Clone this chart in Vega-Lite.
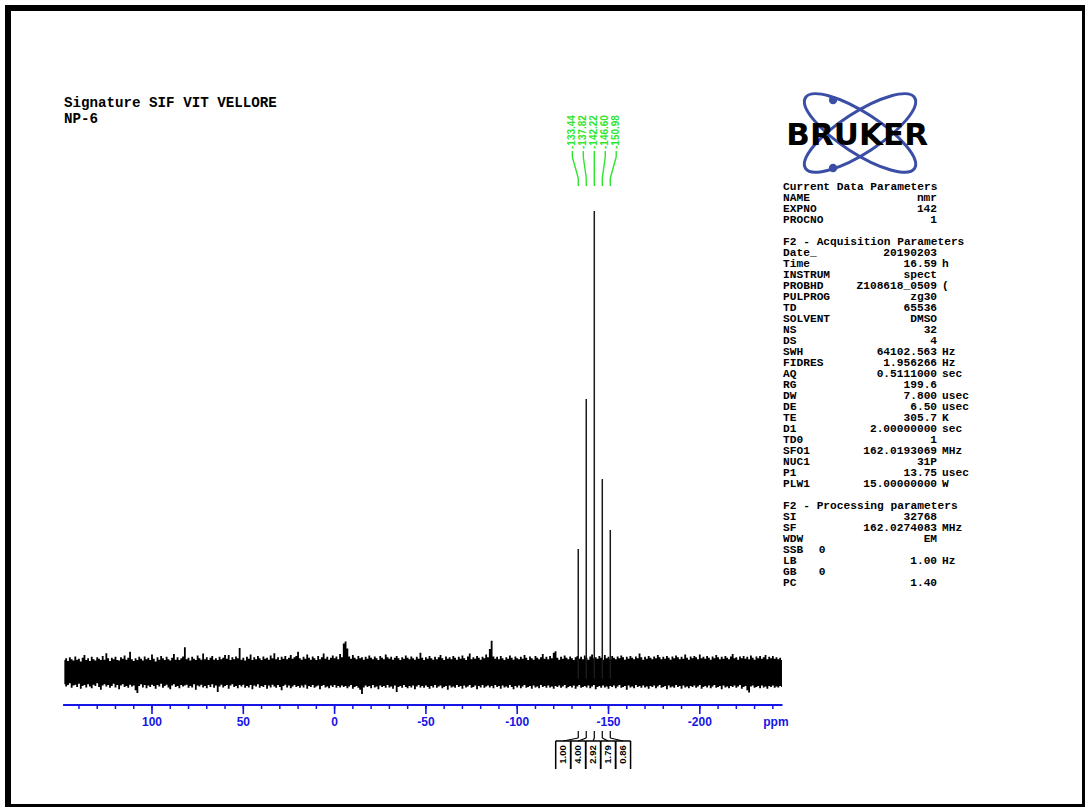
{
  "$schema": "https://vega.github.io/schema/vega-lite/v6.json",
  "width": 1077,
  "height": 799,
  "autosize": "none",
  "padding": {"left": 8, "top": 8, "right": 0, "bottom": 0},
  "background": "white",
  "config": {"view": {"stroke": "black", "strokeWidth": 6}},
  "datasets": {
    "noise": [
      {"ppm":148,"hi":3.0,"lo":-2.2},{"ppm":147,"hi":3.4,"lo":-2.7},{"ppm":146,"hi":2.8,"lo":-2.4},{"ppm":145,"hi":3.6,"lo":-2.0},{"ppm":144,"hi":3.2,"lo":-3.0},
      {"ppm":143,"hi":2.9,"lo":-2.5},{"ppm":142,"hi":3.8,"lo":-2.3},{"ppm":141,"hi":3.1,"lo":-2.8},{"ppm":140,"hi":3.3,"lo":-2.1},{"ppm":139,"hi":2.7,"lo":-3.2},
      {"ppm":138,"hi":3.5,"lo":-2.6},{"ppm":137,"hi":4.1,"lo":-2.4},{"ppm":136,"hi":3.0,"lo":-2.9},{"ppm":135,"hi":3.4,"lo":-2.2},{"ppm":134,"hi":2.8,"lo":-2.7},
      {"ppm":133,"hi":3.7,"lo":-3.1},{"ppm":132,"hi":3.2,"lo":-2.3},{"ppm":131,"hi":2.9,"lo":-2.6},{"ppm":130,"hi":3.6,"lo":-2.0},{"ppm":129,"hi":3.3,"lo":-2.8},
      {"ppm":128,"hi":3.0,"lo":-3.4},{"ppm":127,"hi":3.9,"lo":-2.5},{"ppm":126,"hi":3.1,"lo":-2.2},{"ppm":125,"hi":4.5,"lo":-2.7},{"ppm":124,"hi":3.4,"lo":-2.4},
      {"ppm":123,"hi":2.8,"lo":-3.0},{"ppm":122,"hi":3.5,"lo":-2.6},{"ppm":121,"hi":3.2,"lo":-2.1},{"ppm":120,"hi":3.7,"lo":-2.9},{"ppm":119,"hi":3.0,"lo":-2.4},
      {"ppm":118,"hi":2.9,"lo":-3.3},{"ppm":117,"hi":3.6,"lo":-2.5},{"ppm":116,"hi":3.3,"lo":-2.2},{"ppm":115,"hi":4.0,"lo":-2.8},{"ppm":114,"hi":3.1,"lo":-2.6},
      {"ppm":113,"hi":3.5,"lo":-3.0},{"ppm":112,"hi":4.8,"lo":-2.3},{"ppm":111,"hi":3.2,"lo":-2.7},{"ppm":110,"hi":2.8,"lo":-2.5},{"ppm":109,"hi":3.4,"lo":-3.5},
      {"ppm":108,"hi":3.0,"lo":-4.1},{"ppm":107,"hi":3.7,"lo":-2.6},{"ppm":106,"hi":3.3,"lo":-2.2},{"ppm":105,"hi":2.9,"lo":-2.9},{"ppm":104,"hi":3.8,"lo":-2.4},
      {"ppm":103,"hi":3.2,"lo":-3.1},{"ppm":102,"hi":3.5,"lo":-2.5},{"ppm":101,"hi":3.0,"lo":-2.8},{"ppm":100,"hi":4.2,"lo":-2.3},{"ppm":99,"hi":3.3,"lo":-2.6},
      {"ppm":98,"hi":2.7,"lo":-3.2},{"ppm":97,"hi":3.6,"lo":-2.4},{"ppm":96,"hi":3.1,"lo":-2.7},{"ppm":95,"hi":3.9,"lo":-2.1},{"ppm":94,"hi":3.4,"lo":-3.0},
      {"ppm":93,"hi":3.0,"lo":-2.6},{"ppm":92,"hi":3.7,"lo":-2.3},{"ppm":91,"hi":3.2,"lo":-2.9},{"ppm":90,"hi":2.9,"lo":-3.3},{"ppm":89,"hi":3.5,"lo":-2.5},
      {"ppm":88,"hi":4.3,"lo":-2.2},{"ppm":87,"hi":3.1,"lo":-2.8},{"ppm":86,"hi":3.6,"lo":-2.6},{"ppm":85,"hi":3.0,"lo":-3.1},{"ppm":84,"hi":3.4,"lo":-2.4},
      {"ppm":83,"hi":3.8,"lo":-2.7},{"ppm":82,"hi":5.8,"lo":-2.5},{"ppm":81,"hi":3.2,"lo":-2.3},{"ppm":80,"hi":3.5,"lo":-3.0},{"ppm":79,"hi":2.9,"lo":-2.6},
      {"ppm":78,"hi":3.7,"lo":-2.9},{"ppm":77,"hi":3.3,"lo":-2.2},{"ppm":76,"hi":3.0,"lo":-3.4},{"ppm":75,"hi":4.0,"lo":-2.5},{"ppm":74,"hi":3.4,"lo":-2.7},
      {"ppm":73,"hi":3.1,"lo":-2.3},{"ppm":72,"hi":4.4,"lo":-2.9},{"ppm":71,"hi":3.2,"lo":-2.6},{"ppm":70,"hi":3.6,"lo":-3.1},{"ppm":69,"hi":3.0,"lo":-2.4},
      {"ppm":68,"hi":3.5,"lo":-2.8},{"ppm":67,"hi":3.9,"lo":-2.2},{"ppm":66,"hi":3.1,"lo":-3.0},{"ppm":65,"hi":3.4,"lo":-2.5},{"ppm":64,"hi":3.0,"lo":-3.9},
      {"ppm":63,"hi":3.7,"lo":-2.7},{"ppm":62,"hi":3.2,"lo":-2.3},{"ppm":61,"hi":3.5,"lo":-2.9},{"ppm":60,"hi":4.1,"lo":-2.6},{"ppm":59,"hi":3.3,"lo":-2.4},
      {"ppm":58,"hi":4.1,"lo":-3.2},{"ppm":57,"hi":3.0,"lo":-2.5},{"ppm":56,"hi":3.6,"lo":-2.2},{"ppm":55,"hi":3.2,"lo":-2.8},{"ppm":54,"hi":3.8,"lo":-2.6},
      {"ppm":53,"hi":3.4,"lo":-3.1},{"ppm":52,"hi":5.6,"lo":-2.4},{"ppm":51,"hi":3.1,"lo":-2.7},{"ppm":50,"hi":3.5,"lo":-2.3},{"ppm":49,"hi":2.9,"lo":-3.0},
      {"ppm":48,"hi":3.7,"lo":-2.6},{"ppm":47,"hi":3.3,"lo":-2.9},{"ppm":46,"hi":4.2,"lo":-2.4},{"ppm":45,"hi":3.0,"lo":-3.3},{"ppm":44,"hi":3.6,"lo":-2.5},
      {"ppm":43,"hi":3.2,"lo":-2.7},{"ppm":42,"hi":3.9,"lo":-2.2},{"ppm":41,"hi":3.4,"lo":-3.0},{"ppm":40,"hi":3.0,"lo":-2.6},{"ppm":39,"hi":3.8,"lo":-2.8},
      {"ppm":38,"hi":3.3,"lo":-2.4},{"ppm":37,"hi":3.5,"lo":-3.2},{"ppm":36,"hi":3.1,"lo":-2.5},{"ppm":35,"hi":4.0,"lo":-2.9},{"ppm":34,"hi":3.4,"lo":-2.3},
      {"ppm":33,"hi":4.5,"lo":-2.7},{"ppm":32,"hi":3.2,"lo":-3.0},{"ppm":31,"hi":3.6,"lo":-2.4},{"ppm":30,"hi":3.0,"lo":-2.8},{"ppm":29,"hi":3.7,"lo":-3.5},
      {"ppm":28,"hi":3.3,"lo":-2.6},{"ppm":27,"hi":3.9,"lo":-2.3},{"ppm":26,"hi":3.2,"lo":-2.9},{"ppm":25,"hi":3.5,"lo":-2.5},{"ppm":24,"hi":4.1,"lo":-3.1},
      {"ppm":23,"hi":3.3,"lo":-2.7},{"ppm":22,"hi":3.6,"lo":-2.4},{"ppm":21,"hi":3.9,"lo":-2.8},{"ppm":20,"hi":4.8,"lo":-2.6},{"ppm":19,"hi":3.4,"lo":-3.0},
      {"ppm":18,"hi":3.1,"lo":-2.5},{"ppm":17,"hi":3.7,"lo":-2.9},{"ppm":16,"hi":3.3,"lo":-2.3},{"ppm":15,"hi":4.2,"lo":-3.2},{"ppm":14,"hi":3.5,"lo":-2.6},
      {"ppm":13,"hi":3.1,"lo":-2.8},{"ppm":12,"hi":3.8,"lo":-2.4},{"ppm":11,"hi":3.4,"lo":-3.0},{"ppm":10,"hi":3.0,"lo":-2.7},{"ppm":9,"hi":3.9,"lo":-2.5},
      {"ppm":8,"hi":3.2,"lo":-3.3},{"ppm":7,"hi":3.6,"lo":-2.6},{"ppm":6,"hi":4.4,"lo":-2.4},{"ppm":5,"hi":3.3,"lo":-2.9},{"ppm":4,"hi":3.7,"lo":-2.7},
      {"ppm":3,"hi":3.1,"lo":-3.1},{"ppm":2,"hi":3.5,"lo":-2.5},{"ppm":1,"hi":4.0,"lo":-2.8},{"ppm":0,"hi":3.4,"lo":-2.4},{"ppm":-1,"hi":3.8,"lo":-3.0},
      {"ppm":-2,"hi":3.2,"lo":-2.6},{"ppm":-3,"hi":4.3,"lo":-2.9},{"ppm":-4,"hi":3.6,"lo":-2.5},{"ppm":-5,"hi":6.6,"lo":-2.8},{"ppm":-6,"hi":7.0,"lo":-2.6},
      {"ppm":-7,"hi":5.5,"lo":-3.1},{"ppm":-8,"hi":3.8,"lo":-2.7},{"ppm":-9,"hi":3.3,"lo":-2.4},{"ppm":-10,"hi":4.1,"lo":-3.2},{"ppm":-11,"hi":3.5,"lo":-2.8},
      {"ppm":-12,"hi":3.2,"lo":-2.6},{"ppm":-13,"hi":3.9,"lo":-3.0},{"ppm":-14,"hi":3.4,"lo":-3.4},{"ppm":-15,"hi":3.6,"lo":-4.3},{"ppm":-16,"hi":3.1,"lo":-2.9},
      {"ppm":-17,"hi":3.7,"lo":-2.5},{"ppm":-18,"hi":3.3,"lo":-2.8},{"ppm":-19,"hi":4.0,"lo":-2.6},{"ppm":-20,"hi":3.5,"lo":-3.1},{"ppm":-21,"hi":3.2,"lo":-2.4},
      {"ppm":-22,"hi":3.8,"lo":-2.9},{"ppm":-23,"hi":3.4,"lo":-2.7},{"ppm":-24,"hi":3.0,"lo":-3.3},{"ppm":-25,"hi":3.9,"lo":-2.5},{"ppm":-26,"hi":3.5,"lo":-2.8},
      {"ppm":-27,"hi":3.2,"lo":-2.6},{"ppm":-28,"hi":4.2,"lo":-3.0},{"ppm":-29,"hi":3.6,"lo":-2.4},{"ppm":-30,"hi":3.3,"lo":-2.9},{"ppm":-31,"hi":3.7,"lo":-2.7},
      {"ppm":-32,"hi":3.1,"lo":-3.2},{"ppm":-33,"hi":3.5,"lo":-2.5},{"ppm":-34,"hi":3.9,"lo":-3.9},{"ppm":-35,"hi":3.4,"lo":-2.8},{"ppm":-36,"hi":3.0,"lo":-2.6},
      {"ppm":-37,"hi":3.6,"lo":-3.0},{"ppm":-38,"hi":3.3,"lo":-2.4},{"ppm":-39,"hi":4.0,"lo":-2.8},{"ppm":-40,"hi":3.5,"lo":-3.1},{"ppm":-41,"hi":3.2,"lo":-2.6},
      {"ppm":-42,"hi":3.8,"lo":-2.9},{"ppm":-43,"hi":3.4,"lo":-2.5},{"ppm":-44,"hi":3.1,"lo":-3.3},{"ppm":-45,"hi":3.7,"lo":-2.7},{"ppm":-46,"hi":3.3,"lo":-2.4},
      {"ppm":-47,"hi":4.6,"lo":-2.9},{"ppm":-48,"hi":3.5,"lo":-2.6},{"ppm":-49,"hi":3.0,"lo":-3.0},{"ppm":-50,"hi":3.6,"lo":-2.5},{"ppm":-51,"hi":3.3,"lo":-2.8},
      {"ppm":-52,"hi":3.9,"lo":-3.2},{"ppm":-53,"hi":3.4,"lo":-2.6},{"ppm":-54,"hi":3.1,"lo":-2.9},{"ppm":-55,"hi":3.7,"lo":-2.4},{"ppm":-56,"hi":3.2,"lo":-3.0},
      {"ppm":-57,"hi":3.6,"lo":-2.7},{"ppm":-58,"hi":4.1,"lo":-2.5},{"ppm":-59,"hi":3.4,"lo":-3.1},{"ppm":-60,"hi":3.0,"lo":-2.8},{"ppm":-61,"hi":3.8,"lo":-2.6},
      {"ppm":-62,"hi":3.3,"lo":-3.4},{"ppm":-63,"hi":3.6,"lo":-2.5},{"ppm":-64,"hi":3.2,"lo":-2.9},{"ppm":-65,"hi":3.9,"lo":-2.7},{"ppm":-66,"hi":3.5,"lo":-3.0},
      {"ppm":-67,"hi":3.1,"lo":-2.4},{"ppm":-68,"hi":3.7,"lo":-2.8},{"ppm":-69,"hi":3.3,"lo":-2.6},{"ppm":-70,"hi":4.0,"lo":-3.2},{"ppm":-71,"hi":3.4,"lo":-2.5},
      {"ppm":-72,"hi":3.0,"lo":-2.9},{"ppm":-73,"hi":3.8,"lo":-2.7},{"ppm":-74,"hi":4.4,"lo":-2.4},{"ppm":-75,"hi":3.2,"lo":-3.0},{"ppm":-76,"hi":3.6,"lo":-2.8},
      {"ppm":-77,"hi":3.3,"lo":-2.5},{"ppm":-78,"hi":3.9,"lo":-3.3},{"ppm":-79,"hi":3.5,"lo":-2.6},{"ppm":-80,"hi":3.1,"lo":-2.9},{"ppm":-81,"hi":3.7,"lo":-2.4},
      {"ppm":-82,"hi":3.4,"lo":-3.0},{"ppm":-83,"hi":4.2,"lo":-2.7},{"ppm":-84,"hi":3.6,"lo":-2.5},{"ppm":-85,"hi":5.4,"lo":-2.9},{"ppm":-86,"hi":7.2,"lo":-2.6},
      {"ppm":-87,"hi":3.8,"lo":-3.1},{"ppm":-88,"hi":3.3,"lo":-2.4},{"ppm":-89,"hi":3.7,"lo":-2.8},{"ppm":-90,"hi":3.2,"lo":-2.6},{"ppm":-91,"hi":3.9,"lo":-3.2},
      {"ppm":-92,"hi":3.4,"lo":-2.5},{"ppm":-93,"hi":3.0,"lo":-2.9},{"ppm":-94,"hi":3.6,"lo":-2.7},{"ppm":-95,"hi":3.3,"lo":-3.0},{"ppm":-96,"hi":4.0,"lo":-2.4},
      {"ppm":-97,"hi":3.5,"lo":-2.8},{"ppm":-98,"hi":3.1,"lo":-3.3},{"ppm":-99,"hi":3.8,"lo":-2.6},{"ppm":-100,"hi":3.4,"lo":-2.9},{"ppm":-101,"hi":3.2,"lo":-2.5},
      {"ppm":-102,"hi":3.7,"lo":-3.1},{"ppm":-103,"hi":3.3,"lo":-2.7},{"ppm":-104,"hi":4.1,"lo":-2.4},{"ppm":-105,"hi":3.5,"lo":-3.0},{"ppm":-106,"hi":3.0,"lo":-2.8},
      {"ppm":-107,"hi":3.8,"lo":-2.6},{"ppm":-108,"hi":3.4,"lo":-3.2},{"ppm":-109,"hi":3.1,"lo":-2.5},{"ppm":-110,"hi":3.9,"lo":-2.9},{"ppm":-111,"hi":3.5,"lo":-2.7},
      {"ppm":-112,"hi":3.2,"lo":-3.1},{"ppm":-113,"hi":3.6,"lo":-2.4},{"ppm":-114,"hi":4.3,"lo":-2.8},{"ppm":-115,"hi":3.3,"lo":-2.6},{"ppm":-116,"hi":3.7,"lo":-3.0},
      {"ppm":-117,"hi":3.2,"lo":-2.5},{"ppm":-118,"hi":3.9,"lo":-2.9},{"ppm":-119,"hi":3.4,"lo":-2.7},{"ppm":-120,"hi":4.6,"lo":-3.2},{"ppm":-121,"hi":4.9,"lo":-2.6},
      {"ppm":-122,"hi":3.5,"lo":-2.8},{"ppm":-123,"hi":3.1,"lo":-2.5},{"ppm":-124,"hi":3.7,"lo":-3.0},{"ppm":-125,"hi":3.3,"lo":-2.7},{"ppm":-126,"hi":4.0,"lo":-2.4},
      {"ppm":-127,"hi":3.5,"lo":-3.1},{"ppm":-128,"hi":3.2,"lo":-2.8},{"ppm":-129,"hi":3.8,"lo":-2.6},{"ppm":-130,"hi":3.4,"lo":-2.9},{"ppm":-131,"hi":3.0,"lo":-2.5},
      {"ppm":-132,"hi":3.6,"lo":-3.2},{"ppm":-133,"hi":3.9,"lo":-2.7},{"ppm":-134,"hi":3.3,"lo":-2.4},{"ppm":-135,"hi":3.7,"lo":-3.0},{"ppm":-136,"hi":3.2,"lo":-2.8},
      {"ppm":-137,"hi":4.0,"lo":-2.6},{"ppm":-138,"hi":3.5,"lo":-2.9},{"ppm":-139,"hi":3.1,"lo":-2.5},{"ppm":-140,"hi":3.8,"lo":-3.1},{"ppm":-141,"hi":4.2,"lo":-2.7},
      {"ppm":-142,"hi":3.4,"lo":-2.4},{"ppm":-143,"hi":3.6,"lo":-3.3},{"ppm":-144,"hi":3.3,"lo":-2.8},{"ppm":-145,"hi":3.9,"lo":-2.6},{"ppm":-146,"hi":3.5,"lo":-3.0},
      {"ppm":-147,"hi":3.1,"lo":-2.5},{"ppm":-148,"hi":4.1,"lo":-2.9},{"ppm":-149,"hi":3.4,"lo":-2.7},{"ppm":-150,"hi":3.7,"lo":-3.2},{"ppm":-151,"hi":3.2,"lo":-2.6},
      {"ppm":-152,"hi":3.9,"lo":-2.8},{"ppm":-153,"hi":3.5,"lo":-2.5},{"ppm":-154,"hi":3.2,"lo":-3.1},{"ppm":-155,"hi":3.8,"lo":-2.7},{"ppm":-156,"hi":3.4,"lo":-2.4},
      {"ppm":-157,"hi":4.0,"lo":-3.0},{"ppm":-158,"hi":3.6,"lo":-2.8},{"ppm":-159,"hi":3.1,"lo":-2.6},{"ppm":-160,"hi":3.7,"lo":-3.4},{"ppm":-161,"hi":3.3,"lo":-2.5},
      {"ppm":-162,"hi":3.9,"lo":-2.9},{"ppm":-163,"hi":3.5,"lo":-2.7},{"ppm":-164,"hi":3.2,"lo":-3.1},{"ppm":-165,"hi":3.8,"lo":-2.4},{"ppm":-166,"hi":3.4,"lo":-2.8},
      {"ppm":-167,"hi":4.4,"lo":-2.6},{"ppm":-168,"hi":3.6,"lo":-3.0},{"ppm":-169,"hi":3.1,"lo":-2.5},{"ppm":-170,"hi":3.7,"lo":-2.9},{"ppm":-171,"hi":3.3,"lo":-2.7},
      {"ppm":-172,"hi":3.9,"lo":-3.2},{"ppm":-173,"hi":3.5,"lo":-2.6},{"ppm":-174,"hi":3.2,"lo":-2.8},{"ppm":-175,"hi":3.8,"lo":-2.5},{"ppm":-176,"hi":3.4,"lo":-3.1},
      {"ppm":-177,"hi":4.1,"lo":-2.7},{"ppm":-178,"hi":3.6,"lo":-2.4},{"ppm":-179,"hi":3.2,"lo":-3.0},{"ppm":-180,"hi":3.7,"lo":-2.8},{"ppm":-181,"hi":3.3,"lo":-2.6},
      {"ppm":-182,"hi":3.9,"lo":-3.3},{"ppm":-183,"hi":3.5,"lo":-2.5},{"ppm":-184,"hi":3.1,"lo":-2.9},{"ppm":-185,"hi":3.8,"lo":-2.7},{"ppm":-186,"hi":3.4,"lo":-3.0},
      {"ppm":-187,"hi":4.0,"lo":-2.4},{"ppm":-188,"hi":3.6,"lo":-2.8},{"ppm":-189,"hi":3.2,"lo":-2.6},{"ppm":-190,"hi":3.7,"lo":-3.2},{"ppm":-191,"hi":3.3,"lo":-2.5},
      {"ppm":-192,"hi":4.2,"lo":-2.9},{"ppm":-193,"hi":3.5,"lo":-2.7},{"ppm":-194,"hi":3.1,"lo":-3.1},{"ppm":-195,"hi":3.8,"lo":-2.6},{"ppm":-196,"hi":3.4,"lo":-2.8},
      {"ppm":-197,"hi":3.9,"lo":-2.5},{"ppm":-198,"hi":3.6,"lo":-3.0},{"ppm":-199,"hi":3.2,"lo":-2.7},{"ppm":-200,"hi":4.2,"lo":-2.4},{"ppm":-201,"hi":3.4,"lo":-3.2},
      {"ppm":-202,"hi":3.7,"lo":-2.8},{"ppm":-203,"hi":3.3,"lo":-2.6},{"ppm":-204,"hi":3.9,"lo":-2.9},{"ppm":-205,"hi":3.5,"lo":-2.5},{"ppm":-206,"hi":3.1,"lo":-3.1},
      {"ppm":-207,"hi":3.8,"lo":-2.7},{"ppm":-208,"hi":3.4,"lo":-2.4},{"ppm":-209,"hi":4.1,"lo":-3.0},{"ppm":-210,"hi":3.6,"lo":-2.8},{"ppm":-211,"hi":3.2,"lo":-2.6},
      {"ppm":-212,"hi":3.7,"lo":-3.3},{"ppm":-213,"hi":3.3,"lo":-2.5},{"ppm":-214,"hi":3.9,"lo":-2.9},{"ppm":-215,"hi":3.5,"lo":-2.7},{"ppm":-216,"hi":3.2,"lo":-3.1},
      {"ppm":-217,"hi":3.8,"lo":-2.6},{"ppm":-218,"hi":4.3,"lo":-2.8},{"ppm":-219,"hi":3.4,"lo":-2.5},{"ppm":-220,"hi":3.6,"lo":-3.0},{"ppm":-221,"hi":3.1,"lo":-2.7},
      {"ppm":-222,"hi":3.8,"lo":-2.4},{"ppm":-223,"hi":3.4,"lo":-3.2},{"ppm":-224,"hi":3.9,"lo":-2.8},{"ppm":-225,"hi":3.3,"lo":-2.6},{"ppm":-226,"hi":3.7,"lo":-3.5},
      {"ppm":-227,"hi":3.2,"lo":-4.0},{"ppm":-228,"hi":4.0,"lo":-2.7},{"ppm":-229,"hi":3.5,"lo":-2.5},{"ppm":-230,"hi":3.1,"lo":-3.0},{"ppm":-231,"hi":3.8,"lo":-2.8},
      {"ppm":-232,"hi":3.4,"lo":-2.6},{"ppm":-233,"hi":3.9,"lo":-3.1},{"ppm":-234,"hi":3.3,"lo":-2.5},{"ppm":-235,"hi":3.6,"lo":-2.9},{"ppm":-236,"hi":4.1,"lo":-2.7},
      {"ppm":-237,"hi":3.2,"lo":-3.2},{"ppm":-238,"hi":3.7,"lo":-2.6},{"ppm":-239,"hi":3.4,"lo":-2.8},{"ppm":-240,"hi":3.9,"lo":-2.5},{"ppm":-241,"hi":3.3,"lo":-3.0},
      {"ppm":-242,"hi":3.6,"lo":-2.7},{"ppm":-243,"hi":3.2,"lo":-2.9},{"ppm":-244,"hi":3.5,"lo":-2.6},{"ppm":-245,"hi":3.0,"lo":-2.8}
    ],
    "peaks": [
      {"ppm":-133.44,"h":27.0,"label":"-133.44","integral":"1.00"},
      {"ppm":-137.82,"h":59.4,"label":"-137.82","integral":"4.00"},
      {"ppm":-142.22,"h":100.0,"label":"-142.22","integral":"2.92"},
      {"ppm":-146.60,"h":42.1,"label":"-146.60","integral":"1.79"},
      {"ppm":-150.98,"h":31.1,"label":"-150.98","integral":"0.86"}
    ],
    "minorTicks": [
      {"ppm":140},{"ppm":130},{"ppm":120},{"ppm":110},{"ppm":100},{"ppm":90},{"ppm":80},{"ppm":70},{"ppm":60},{"ppm":50},
      {"ppm":40},{"ppm":30},{"ppm":20},{"ppm":10},{"ppm":0},{"ppm":-10},{"ppm":-20},{"ppm":-30},{"ppm":-40},{"ppm":-50},
      {"ppm":-60},{"ppm":-70},{"ppm":-80},{"ppm":-90},{"ppm":-100},{"ppm":-110},{"ppm":-120},{"ppm":-130},{"ppm":-140},{"ppm":-150},
      {"ppm":-160},{"ppm":-170},{"ppm":-180},{"ppm":-190},{"ppm":-200},{"ppm":-210},{"ppm":-220},{"ppm":-230},{"ppm":-240}
    ],
    "majorTicks": [
      {"ppm":100},{"ppm":50},{"ppm":0},{"ppm":-50},{"ppm":-100},{"ppm":-150},{"ppm":-200}
    ],
    "params": [
      {"line":0,"key":"Current Data Parameters"},
      {"line":1,"key":"NAME","val":"nmr"},
      {"line":2,"key":"EXPNO","val":"142"},
      {"line":3,"key":"PROCNO","val":"1"},
      {"line":5,"key":"F2 - Acquisition Parameters"},
      {"line":6,"key":"Date_","val":"20190203"},
      {"line":7,"key":"Time","val":"16.59","unit":"h"},
      {"line":8,"key":"INSTRUM","val":"spect"},
      {"line":9,"key":"PROBHD","val":"Z108618_0509","unit":"("},
      {"line":10,"key":"PULPROG","val":"zg30"},
      {"line":11,"key":"TD","val":"65536"},
      {"line":12,"key":"SOLVENT","val":"DMSO"},
      {"line":13,"key":"NS","val":"32"},
      {"line":14,"key":"DS","val":"4"},
      {"line":15,"key":"SWH","val":"64102.563","unit":"Hz"},
      {"line":16,"key":"FIDRES","val":"1.956266","unit":"Hz"},
      {"line":17,"key":"AQ","val":"0.5111000","unit":"sec"},
      {"line":18,"key":"RG","val":"199.6"},
      {"line":19,"key":"DW","val":"7.800","unit":"usec"},
      {"line":20,"key":"DE","val":"6.50","unit":"usec"},
      {"line":21,"key":"TE","val":"305.7","unit":"K"},
      {"line":22,"key":"D1","val":"2.00000000","unit":"sec"},
      {"line":23,"key":"TD0","val":"1"},
      {"line":24,"key":"SFO1","val":"162.0193069","unit":"MHz"},
      {"line":25,"key":"NUC1","val":"31P"},
      {"line":26,"key":"P1","val":"13.75","unit":"usec"},
      {"line":27,"key":"PLW1","val":"15.00000000","unit":"W"},
      {"line":29,"key":"F2 - Processing parameters"},
      {"line":30,"key":"SI","val":"32768"},
      {"line":31,"key":"SF","val":"162.0274083","unit":"MHz"},
      {"line":32,"key":"WDW","val":"EM"},
      {"line":33,"key":"SSB","mid":"0"},
      {"line":34,"key":"LB","val":"1.00","unit":"Hz"},
      {"line":35,"key":"GB","mid":"0"},
      {"line":36,"key":"PC","val":"1.40"}
    ]
  },
  "layer": [
    {
      "layer": [
        {
          "data": {"name": "noise"},
          "mark": {"type": "area", "interpolate": "step", "color": "black", "opacity": 1},
          "encoding": {
            "x": {"field": "ppm", "type": "quantitative", "scale": {"domain": [178.86, -410.95], "nice": false, "zero": false}, "axis": null},
            "y": {"field": "hi", "type": "quantitative", "scale": {"domain": [-28.73, 143.84], "nice": false, "zero": false}, "axis": null},
            "y2": {"field": "lo"}
          }
        },
        {
          "data": {"values": [{}]},
          "transform": [
            {"calculate": "148.7", "as": "xa"},
            {"calculate": "-245.3", "as": "xb"},
            {"calculate": "-6.70", "as": "ya"}
          ],
          "mark": {"type": "rule", "color": "#1515e6", "strokeWidth": 2},
          "encoding": {
            "x": {"field": "xa", "type": "quantitative", "axis": null},
            "x2": {"field": "xb"},
            "y": {"field": "ya", "type": "quantitative", "axis": null}
          }
        },
        {
          "data": {"name": "minorTicks"},
          "transform": [
            {"calculate": "-6.70", "as": "ya"},
            {"calculate": "-7.56", "as": "yb"}
          ],
          "mark": {"type": "rule", "color": "#1515e6", "strokeWidth": 1.5},
          "encoding": {
            "x": {"field": "ppm", "type": "quantitative", "axis": null},
            "y": {"field": "ya", "type": "quantitative", "axis": null},
            "y2": {"field": "yb"}
          }
        },
        {
          "data": {"name": "majorTicks"},
          "transform": [
            {"calculate": "-6.70", "as": "ya"},
            {"calculate": "-8.64", "as": "yb"}
          ],
          "mark": {"type": "rule", "color": "#1515e6", "strokeWidth": 1.6},
          "encoding": {
            "x": {"field": "ppm", "type": "quantitative", "axis": null},
            "y": {"field": "ya", "type": "quantitative", "axis": null},
            "y2": {"field": "yb"}
          }
        },
        {
          "data": {"name": "majorTicks"},
          "transform": [
            {"calculate": "'' + datum.ppm", "as": "tickLabel"},
            {"calculate": "-10.47", "as": "ya"}
          ],
          "mark": {"type": "text", "color": "#1515e6", "font": "Liberation Sans", "fontWeight": "bold", "fontSize": 12, "align": "center", "baseline": "middle"},
          "encoding": {
            "x": {"field": "ppm", "type": "quantitative", "axis": null},
            "y": {"field": "ya", "type": "quantitative", "axis": null},
            "text": {"field": "tickLabel"}
          }
        },
        {
          "data": {"values": [{}]},
          "transform": [
            {"calculate": "-241.7", "as": "xa"},
            {"calculate": "-10.47", "as": "ya"}
          ],
          "mark": {"type": "text", "text": "ppm", "color": "#1515e6", "font": "Liberation Sans", "fontWeight": "bold", "fontSize": 12, "align": "center", "baseline": "middle"},
          "encoding": {
            "x": {"field": "xa", "type": "quantitative", "axis": null},
            "y": {"field": "ya", "type": "quantitative", "axis": null}
          }
        },
        {
          "data": {"name": "peaks"},
          "transform": [{"calculate": "-1.0", "as": "base"}],
          "mark": {"type": "rule", "color": "#1a1a1a", "strokeWidth": 1.5},
          "encoding": {
            "x": {"field": "ppm", "type": "quantitative", "axis": null},
            "y": {"field": "base", "type": "quantitative", "axis": null},
            "y2": {"field": "h"}
          }
        },
        {
          "data": {"name": "peaks"},
          "transform": [
            {"calculate": "-142.22 + (datum.ppm + 142.22) * 1.37", "as": "lx"},
            {"calculate": "113.39", "as": "ya"}
          ],
          "mark": {"type": "text", "color": "#2ee62e", "font": "Liberation Sans", "fontWeight": "bold", "fontSize": 10, "angle": 270, "align": "left", "baseline": "middle"},
          "encoding": {
            "x": {"field": "lx", "type": "quantitative", "axis": null},
            "y": {"field": "ya", "type": "quantitative", "axis": null},
            "text": {"field": "label"}
          }
        },
        {
          "data": {"name": "peaks"},
          "transform": [
            {"calculate": "-142.22 + (datum.ppm + 142.22) * 1.37", "as": "lx"},
            {"calculate": "112.96", "as": "ya"},
            {"calculate": "111.66", "as": "yb"}
          ],
          "mark": {"type": "rule", "color": "#2ee62e", "strokeWidth": 1.4},
          "encoding": {
            "x": {"field": "lx", "type": "quantitative", "axis": null},
            "y": {"field": "ya", "type": "quantitative", "axis": null},
            "y2": {"field": "yb"}
          }
        },
        {
          "data": {"name": "peaks"},
          "transform": [
            {"calculate": "-142.22 + (datum.ppm + 142.22) * 1.37", "as": "lx"},
            {"calculate": "111.66", "as": "ya"},
            {"calculate": "107.13", "as": "yb"}
          ],
          "mark": {"type": "rule", "color": "#2ee62e", "strokeWidth": 1.4},
          "encoding": {
            "x": {"field": "lx", "type": "quantitative", "axis": null},
            "x2": {"field": "ppm"},
            "y": {"field": "ya", "type": "quantitative", "axis": null},
            "y2": {"field": "yb"}
          }
        },
        {
          "data": {"name": "peaks"},
          "transform": [
            {"calculate": "107.13", "as": "ya"},
            {"calculate": "105.40", "as": "yb"}
          ],
          "mark": {"type": "rule", "color": "#2ee62e", "strokeWidth": 1.4},
          "encoding": {
            "x": {"field": "ppm", "type": "quantitative", "axis": null},
            "y": {"field": "ya", "type": "quantitative", "axis": null},
            "y2": {"field": "yb"}
          }
        },
        {
          "data": {"name": "peaks"},
          "transform": [
            {"calculate": "-12.31", "as": "ya"},
            {"calculate": "-13.82", "as": "yb"}
          ],
          "mark": {"type": "rule", "color": "black", "strokeWidth": 1.2},
          "encoding": {
            "x": {"field": "ppm", "type": "quantitative", "axis": null},
            "y": {"field": "ya", "type": "quantitative", "axis": null},
            "y2": {"field": "yb"}
          }
        },
        {
          "data": {"name": "peaks"},
          "transform": [
            {"calculate": "-141.6 + (datum.ppm + 142.22) * 1.87", "as": "ix"},
            {"calculate": "-13.82", "as": "ya"},
            {"calculate": "-14.47", "as": "yb"}
          ],
          "mark": {"type": "rule", "color": "black", "strokeWidth": 1.2},
          "encoding": {
            "x": {"field": "ppm", "type": "quantitative", "axis": null},
            "x2": {"field": "ix"},
            "y": {"field": "ya", "type": "quantitative", "axis": null},
            "y2": {"field": "yb"}
          }
        },
        {
          "data": {"name": "peaks"},
          "transform": [
            {"calculate": "-141.6 + (datum.ppm + 142.22) * 1.87", "as": "ix"},
            {"calculate": "datum.ix + 4.1", "as": "ixl"},
            {"calculate": "datum.ix - 4.1", "as": "ixr"},
            {"calculate": "-14.47", "as": "ya"}
          ],
          "mark": {"type": "rule", "color": "black", "strokeWidth": 1.5},
          "encoding": {
            "x": {"field": "ixl", "type": "quantitative", "axis": null},
            "x2": {"field": "ixr"},
            "y": {"field": "ya", "type": "quantitative", "axis": null}
          }
        },
        {
          "data": {"name": "peaks"},
          "transform": [
            {"calculate": "-141.6 + (datum.ppm + 142.22) * 1.87", "as": "ix"},
            {"calculate": "datum.ix + 4.1", "as": "edgeL"},
            {"calculate": "datum.ix - 4.1", "as": "edgeR"},
            {"fold": ["edgeL", "edgeR"], "as": ["side", "edge"]},
            {"calculate": "-14.47", "as": "ya"},
            {"calculate": "-20.52", "as": "yb"}
          ],
          "mark": {"type": "rule", "color": "black", "strokeWidth": 1.5},
          "encoding": {
            "x": {"field": "edge", "type": "quantitative", "axis": null},
            "y": {"field": "ya", "type": "quantitative", "axis": null},
            "y2": {"field": "yb"}
          }
        },
        {
          "data": {"name": "peaks"},
          "transform": [
            {"calculate": "-141.6 + (datum.ppm + 142.22) * 1.87", "as": "ix"},
            {"calculate": "-17.4", "as": "ya"}
          ],
          "mark": {"type": "text", "color": "black", "font": "Liberation Sans", "fontWeight": "bold", "fontSize": 9.5, "angle": 270, "align": "center", "baseline": "middle"},
          "encoding": {
            "x": {"field": "ix", "type": "quantitative", "axis": null},
            "y": {"field": "ya", "type": "quantitative", "axis": null},
            "text": {"field": "integral"}
          }
        }
      ]
    },
    {
      "layer": [
        {
          "data": {"name": "params"},
          "transform": [{"calculate": "0", "as": "col"}],
          "mark": {"type": "text", "font": "Liberation Mono", "fontWeight": "bold", "fontSize": 11.2, "color": "black", "align": "left", "baseline": "middle"},
          "encoding": {
            "x": {"field": "col", "type": "quantitative", "scale": {"domain": [-115.0, 44.8], "nice": false, "zero": false}, "axis": null},
            "y": {"field": "line", "type": "quantitative", "scale": {"domain": [-16.273, 56.364], "nice": false, "zero": false, "reverse": true}, "axis": null},
            "text": {"field": "key"}
          }
        },
        {
          "data": {"name": "params"},
          "transform": [{"filter": "datum.val != null"}, {"calculate": "22.85", "as": "col"}],
          "mark": {"type": "text", "font": "Liberation Mono", "fontWeight": "bold", "fontSize": 11.2, "color": "black", "align": "right", "baseline": "middle"},
          "encoding": {
            "x": {"field": "col", "type": "quantitative", "axis": null},
            "y": {"field": "line", "type": "quantitative", "axis": null},
            "text": {"field": "val"}
          }
        },
        {
          "data": {"name": "params"},
          "transform": [{"filter": "datum.mid != null"}, {"calculate": "5.8", "as": "col"}],
          "mark": {"type": "text", "font": "Liberation Mono", "fontWeight": "bold", "fontSize": 11.2, "color": "black", "align": "center", "baseline": "middle"},
          "encoding": {
            "x": {"field": "col", "type": "quantitative", "axis": null},
            "y": {"field": "line", "type": "quantitative", "axis": null},
            "text": {"field": "mid"}
          }
        },
        {
          "data": {"name": "params"},
          "transform": [{"filter": "datum.unit != null"}, {"calculate": "23.6", "as": "col"}],
          "mark": {"type": "text", "font": "Liberation Mono", "fontWeight": "bold", "fontSize": 11.2, "color": "black", "align": "left", "baseline": "middle"},
          "encoding": {
            "x": {"field": "col", "type": "quantitative", "axis": null},
            "y": {"field": "line", "type": "quantitative", "axis": null},
            "text": {"field": "unit"}
          }
        },
        {
          "data": {"values": [{"title": "Signature SIF VIT VELLORE", "row": 0}, {"title": "NP-6", "row": 1}]},
          "transform": [{"calculate": "-106.7", "as": "col"}, {"calculate": "-7.62 + datum.row * 1.4", "as": "line"}],
          "mark": {"type": "text", "font": "Liberation Mono", "fontWeight": "bold", "fontSize": 14.2, "color": "black", "align": "left", "baseline": "middle"},
          "encoding": {
            "x": {"field": "col", "type": "quantitative", "axis": null},
            "y": {"field": "line", "type": "quantitative", "axis": null},
            "text": {"field": "title"}
          }
        },
        {
          "data": {"values": [{}]},
          "transform": [{"calculate": "11.42", "as": "col"}, {"calculate": "-4.91", "as": "line"}],
          "mark": {"type": "point", "shape": "M -1 0 A 1 0.31 0 1 0 1 0 A 1 0.31 0 1 0 -1 0 Z", "filled": false, "stroke": "#3b4ea6", "strokeWidth": 3, "opacity": 1, "size": 16900, "angle": 33},
          "encoding": {
            "x": {"field": "col", "type": "quantitative", "axis": null},
            "y": {"field": "line", "type": "quantitative", "axis": null}
          }
        },
        {
          "data": {"values": [{}]},
          "transform": [{"calculate": "11.42", "as": "col"}, {"calculate": "-4.91", "as": "line"}],
          "mark": {"type": "point", "shape": "M -1 0 A 1 0.31 0 1 0 1 0 A 1 0.31 0 1 0 -1 0 Z", "filled": false, "stroke": "#3b4ea6", "strokeWidth": 3, "opacity": 1, "size": 16900, "angle": -33},
          "encoding": {
            "x": {"field": "col", "type": "quantitative", "axis": null},
            "y": {"field": "line", "type": "quantitative", "axis": null}
          }
        },
        {
          "data": {"values": [{}]},
          "transform": [{"calculate": "11.0", "as": "col"}, {"calculate": "-4.6", "as": "line"}],
          "mark": {"type": "text", "text": "BRUKER", "font": "DejaVu Sans", "fontWeight": "bold", "fontSize": 31, "color": "black", "align": "center", "baseline": "middle"},
          "encoding": {
            "x": {"field": "col", "type": "quantitative", "axis": null},
            "y": {"field": "line", "type": "quantitative", "axis": null}
          }
        },
        {
          "data": {"values": [{"dot": "upper"}, {"dot": "lower"}]},
          "transform": [{"calculate": "7.42", "as": "col"}, {"calculate": "datum.dot == 'upper' ? -7.9 : -1.73", "as": "line"}],
          "mark": {"type": "point", "shape": "circle", "filled": true, "color": "#3b4ea6", "opacity": 1, "size": 70},
          "encoding": {
            "x": {"field": "col", "type": "quantitative", "axis": null},
            "y": {"field": "line", "type": "quantitative", "axis": null}
          }
        }
      ]
    }
  ],
  "resolve": {"scale": {"x": "independent", "y": "independent"}}
}
